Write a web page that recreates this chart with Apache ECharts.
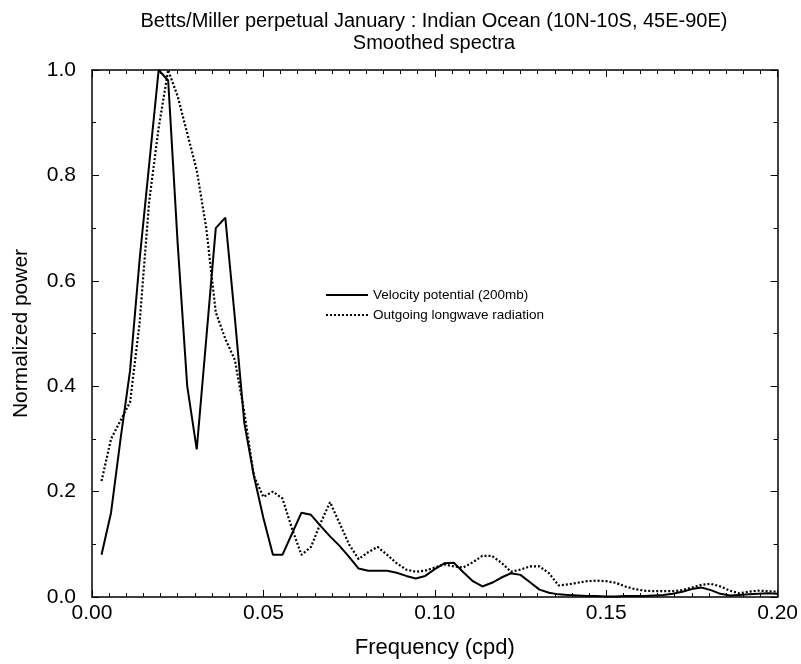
<!DOCTYPE html>
<html lang="en">
  <head>
    <meta charset="UTF-8" />
    <title>Smoothed spectra</title>
    <script src="https://cdn.jsdelivr.net/npm/echarts@6/dist/echarts.min.js"></script>
    <style>
      body { margin: 0; background: #fff; }
    </style>
  </head>
  <body>
    <div id="main" style="width: 801px; height: 664px"></div>
    <script type="text/javascript">
      // spectral estimates at k/360 cpd, k = 1..72
      const velocity = [
        0.08, 0.16, 0.30, 0.43, 0.64, 0.82, 1.0, 0.98, 0.67, 0.40,
        0.28, 0.49, 0.70, 0.72, 0.53, 0.33, 0.23, 0.15, 0.08, 0.08,
        0.12, 0.16, 0.156, 0.135, 0.115, 0.097, 0.076, 0.054, 0.050, 0.050,
        0.050, 0.046, 0.040, 0.035, 0.040, 0.053, 0.064, 0.065, 0.047, 0.030,
        0.020, 0.027, 0.037, 0.045, 0.042, 0.028, 0.014, 0.008, 0.005, 0.004,
        0.003, 0.002, 0.002, 0.001, 0.001, 0.002, 0.002, 0.002, 0.003, 0.004,
        0.006, 0.010, 0.015, 0.018, 0.013, 0.006, 0.003, 0.004, 0.005, 0.006,
        0.007, 0.006,
      ];
      const olr = [
        0.22, 0.30, 0.335, 0.37, 0.52, 0.75, 0.89, 1.0, 0.95, 0.88,
        0.81, 0.70, 0.54, 0.49, 0.45, 0.35, 0.23, 0.19, 0.20, 0.187,
        0.13, 0.08, 0.095, 0.14, 0.18, 0.14, 0.10, 0.072, 0.085, 0.095,
        0.08, 0.064, 0.052, 0.048, 0.050, 0.056, 0.062, 0.058, 0.056, 0.066,
        0.078, 0.078, 0.065, 0.048, 0.052, 0.058, 0.058, 0.045, 0.022, 0.024,
        0.027, 0.030, 0.031, 0.030, 0.027, 0.020, 0.015, 0.012, 0.011, 0.011,
        0.011, 0.013, 0.018, 0.023, 0.025, 0.020, 0.012, 0.007, 0.010, 0.012,
        0.011, 0.010,
      ];
      const freq = velocity.map((_, i) => (i + 1) / 360);
      const seriesNames = ["Velocity potential (200mb)", "Outgoing longwave radiation"];

      const font = "Liberation Sans";
      const boxAxis = {
        min: 0,
        axisLine: { show: true, onZero: false, lineStyle: { color: "#000", width: 1.5 } },
        axisTick: { show: true, inside: true, length: 7, lineStyle: { color: "#000" } },
        minorTick: { show: true, length: 4, lineStyle: { color: "#000" } },
        splitLine: { show: false },
      };

      let options = {
        backgroundColor: "#fff",
        animation: false,
        textStyle: { fontFamily: font, color: "#000" },
        title: {
          text: "Betts/Miller perpetual January : Indian Ocean (10N-10S, 45E-90E)\nSmoothed spectra",
          left: 429,
          textAlign: "center",
          top: 5,
          textStyle: { fontFamily: font, fontSize: 20, fontWeight: "normal", color: "#000", lineHeight: 22 },
        },
        legend: {
          orient: "vertical",
          left: 320,
          top: 283,
          itemWidth: 42,
          itemHeight: 10,
          itemGap: 6,
          itemStyle: { opacity: 0 },
          textStyle: { fontFamily: font, fontSize: 13.5, color: "#000" },
          data: seriesNames,
        },
        grid: { left: 92, right: 23, top: 70, bottom: 67 },
        xAxis: [
          {
            ...boxAxis,
            type: "value",
            max: 0.2,
            interval: 0.05,
            minorTick: { ...boxAxis.minorTick, splitNumber: 10 },
            name: "Frequency (cpd)",
            nameLocation: "middle",
            nameGap: 40,
            nameTextStyle: { fontFamily: font, fontSize: 22, color: "#000" },
            axisLabel: {
              margin: 6,
              fontSize: 21,
              color: "#000",
              formatter: (v) => v.toFixed(2),
            },
          },
          {
            ...boxAxis,
            type: "value",
            position: "top",
            max: 0.2,
            interval: 0.05,
            minorTick: { ...boxAxis.minorTick, splitNumber: 10 },
            axisLabel: { show: false },
          },
        ],
        yAxis: [
          {
            ...boxAxis,
            type: "value",
            max: 1.0,
            interval: 0.2,
            minorTick: { ...boxAxis.minorTick, splitNumber: 2 },
            name: "Normalized power",
            nameLocation: "middle",
            nameGap: 60,
            nameTextStyle: { fontFamily: font, fontSize: 21, color: "#000" },
            axisLabel: {
              margin: 16,
              fontSize: 21,
              color: "#000",
              formatter: (v) => v.toFixed(1),
            },
          },
          {
            ...boxAxis,
            type: "value",
            position: "right",
            max: 1.0,
            interval: 0.2,
            minorTick: { ...boxAxis.minorTick, splitNumber: 2 },
            axisLabel: { show: false },
          },
        ],
        series: [
          {
            name: seriesNames[0],
            type: "line",
            symbol: "none",
            data: freq.map((f, i) => [f, velocity[i]]),
            lineStyle: { color: "#000", width: 2 },
            itemStyle: { color: "#000" },
          },
          {
            name: seriesNames[1],
            type: "line",
            symbol: "none",
            data: freq.map((f, i) => [f, olr[i]]),
            lineStyle: { color: "#000", width: 2.2, type: [2, 2] },
            itemStyle: { color: "#000" },
          },
        ],
      };

      let myChart = echarts.init(document.getElementById("main"));
      myChart.setOption(options);
    </script>
  </body>
</html>
